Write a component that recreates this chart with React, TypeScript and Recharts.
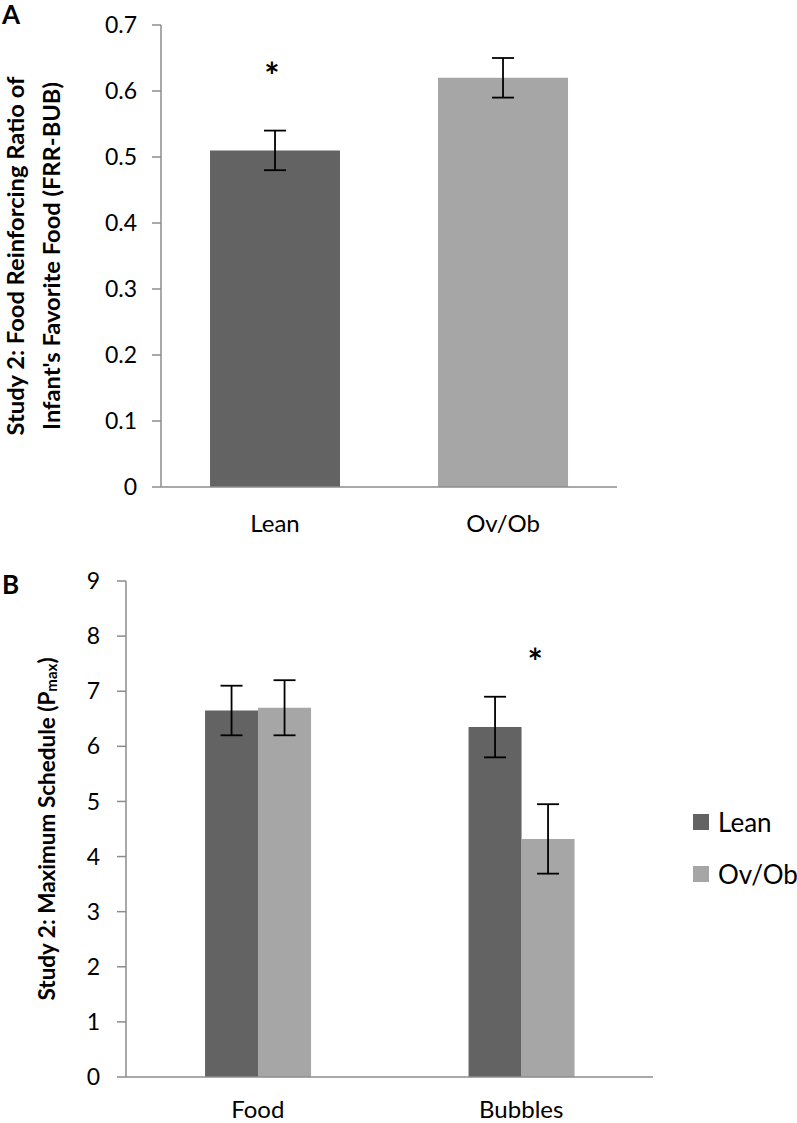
import { Bar, BarChart, Cell, ErrorBar, Legend, ReferenceDot, XAxis, YAxis } from "recharts";

// Panel A: food reinforcing ratio by weight group
const groupsA = ["Lean", "Ov/Ob"];
const ratioA = [0.51, 0.62];
const ratioErrA = [0.03, 0.03];
const ticksA = [0, 0.1, 0.2, 0.3, 0.4, 0.5, 0.6, 0.7];
const starGroupA = "Lean";
const starValueA = 0.63;

// Panel B: Pmax by reinforcer and group
const reinforcersB = ["Food", "Bubbles"];
const leanPmax = [6.65, 6.35];
const leanErr = [0.45, 0.55];
const ovobPmax = [6.7, 4.32];
const ovobErr = [0.5, 0.63];
const ticksB = [0, 1, 2, 3, 4, 5, 6, 7, 8, 9];
const starGroupB = "Bubbles";
const starValueB = 7.62;

const DARK = "#636363";
const LIGHT = "#a6a6a6";
const AXIS = "#8c8c8c";
const FONT = "Lato, 'Open Sans', sans-serif";

const dataA = groupsA.map((g, i) => ({ group: g, ratio: ratioA[i], err: ratioErrA[i] }));
const dataB = reinforcersB.map((r, i) => ({
  group: r,
  lean: leanPmax[i],
  leanErr: leanErr[i],
  ovob: ovobPmax[i],
  ovobErr: ovobErr[i],
}));

const Star = (dx: number) => (p: any) => (
  <text x={p.cx + dx} y={p.cy} dy="0.5em" textAnchor="middle" fontFamily={FONT} fontWeight={700} fontSize={36} fill="#000">
    *
  </text>
);

const TitleA = (props: any) => {
  const vb = props.viewBox || {};
  const cy = (vb.y ?? 0) + (vb.height ?? 0) / 2;
  const common = { fontFamily: FONT, fontWeight: 700, fontSize: 23.7, fill: "#000", textAnchor: "middle" as const, dominantBaseline: "central" as const };
  return (
    <g>
      <text x={15} y={cy} transform={`rotate(-90 15 ${cy})`} {...common}>Study 2: Food Reinforcing Ratio of</text>
      <text x={51} y={cy} transform={`rotate(-90 51 ${cy})`} {...common}>Infant's Favorite Food (FRR-BUB)</text>
    </g>
  );
};

const TitleB = (props: any) => {
  const vb = props.viewBox || {};
  const cy = (vb.y ?? 0) + (vb.height ?? 0) / 2;
  return (
    <text
      x={46}
      y={cy}
      transform={`rotate(-90 46 ${cy})`}
      fontFamily={FONT}
      fontWeight={700}
      fontSize={22.5}
      fill="#000"
      textAnchor="middle"
      dominantBaseline="central"
    >
      Study 2: Maximum Schedule (P<tspan fontSize={15} dy={5}>max</tspan><tspan dy={-5}>)</tspan>
    </text>
  );
};

const LegendB = (props: any) => (
  <div style={{ fontFamily: FONT }}>
    {(props.payload || []).map((p: any) => (
      <div key={p.value} style={{ display: "flex", alignItems: "center", height: 52 }}>
        <span style={{ width: 16, height: 16, background: p.color, marginRight: 9, display: "inline-block" }} />
        <span style={{ fontSize: 26, color: "#000" }}>{p.value}</span>
      </div>
    ))}
  </div>
);

const tickStyle = { fill: "#000", fontSize: 23, fontFamily: FONT };
const catStyle = { fill: "#000", fontSize: 24, fontFamily: FONT };

export default function App() {
  return (
    <div style={{ position: "absolute", left: 0, top: 0, width: 797, height: 1123, background: "#fff" }}>
      <div style={{ position: "absolute", left: 2, top: -2, fontFamily: FONT, fontWeight: 700, fontSize: 26 }}>A</div>
      <div style={{ position: "absolute", left: 0, top: 0 }}>
        <BarChart width={797} height={560} data={dataA} margin={{ top: 25, right: 180, bottom: 13, left: 0 }} barCategoryGap="21.5%">
          <XAxis
            dataKey="group"
            height={60}
            tickLine={false}
            tickSize={0}
            tickMargin={28}
            tick={catStyle}
            axisLine={{ stroke: AXIS, strokeWidth: 1.5 }}
          />
          <YAxis
            width={161}
            domain={[0, 0.7]}
            ticks={ticksA}
            interval={0}
            tickSize={9}
            tickMargin={15}
            tick={tickStyle}
            tickLine={{ stroke: AXIS, strokeWidth: 1.5 }}
            axisLine={{ stroke: AXIS, strokeWidth: 1.5 }}
            label={{ content: TitleA }}
          />
          <Bar dataKey="ratio" isAnimationActive={false}>
            {dataA.map((d, i) => (
              <Cell key={d.group} fill={i === 0 ? DARK : LIGHT} />
            ))}
            <ErrorBar dataKey="err" width={11} stroke="#000" strokeWidth={1.8} />
          </Bar>
          <ReferenceDot x={starGroupA} y={starValueA} shape={Star(-3)} />
        </BarChart>
      </div>

      <div style={{ position: "absolute", left: 2, top: 568, fontFamily: FONT, fontWeight: 700, fontSize: 26 }}>B</div>
      <div style={{ position: "absolute", left: 0, top: 560 }}>
        <BarChart width={797} height={563} data={dataB} margin={{ top: 21, right: 144, bottom: 1, left: 0 }} barCategoryGap="30%" barGap={0}>
          <XAxis
            dataKey="group"
            height={45}
            tickLine={false}
            tickSize={0}
            tickMargin={24}
            tick={catStyle}
            axisLine={{ stroke: AXIS, strokeWidth: 1.5 }}
          />
          <YAxis
            width={126}
            domain={[0, 9]}
            ticks={ticksB}
            interval={0}
            tickSize={9}
            tickMargin={17}
            tick={tickStyle}
            tickLine={{ stroke: AXIS, strokeWidth: 1.5 }}
            axisLine={{ stroke: AXIS, strokeWidth: 1.5 }}
            label={{ content: TitleB }}
          />
          <Legend
            layout="horizontal"
            verticalAlign="middle"
            align="center"
            content={LegendB}
            wrapperStyle={{ left: 693, top: 236, width: 110 }}
          />
          <Bar dataKey="lean" name="Lean" fill={DARK} isAnimationActive={false}>
            <ErrorBar dataKey="leanErr" width={11} stroke="#000" strokeWidth={1.8} />
          </Bar>
          <Bar dataKey="ovob" name="Ov/Ob" fill={LIGHT} isAnimationActive={false}>
            <ErrorBar dataKey="ovobErr" width={11} stroke="#000" strokeWidth={1.8} />
          </Bar>
          <ReferenceDot x={starGroupB} y={starValueB} shape={Star(14)} />
        </BarChart>
      </div>
    </div>
  );
}
